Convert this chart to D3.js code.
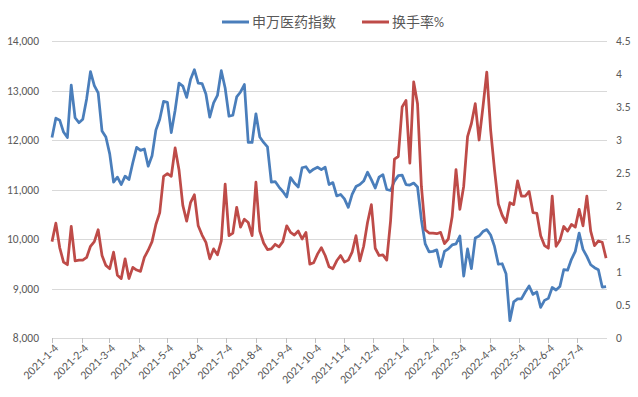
<!DOCTYPE html>
<html>
<head>
<meta charset="utf-8">
<script src="https://cdn.jsdelivr.net/npm/d3@7"></script>
<style>
  body { margin: 0; background: #fff; }
  text { font-family: Calibri, Carlito, Lato, "Noto Sans CJK SC", sans-serif; fill: #595959; }
</style>
</head>
<body>
<div id="chart"></div>
<script>
// sampled dates (roughly every 4 days)
const dates = [
  '2021-01-04','2021-01-08','2021-01-12','2021-01-16','2021-01-20','2021-01-24','2021-01-28','2021-02-01',
  '2021-02-05','2021-02-09','2021-02-13','2021-02-17','2021-02-21','2021-02-25','2021-03-01','2021-03-05',
  '2021-03-09','2021-03-13','2021-03-17','2021-03-21','2021-03-25','2021-03-29','2021-04-02','2021-04-06',
  '2021-04-10','2021-04-14','2021-04-18','2021-04-22','2021-04-26','2021-04-30','2021-05-04','2021-05-08',
  '2021-05-12','2021-05-16','2021-05-20','2021-05-24','2021-05-28','2021-06-01','2021-06-05','2021-06-09',
  '2021-06-13','2021-06-17','2021-06-21','2021-06-25','2021-06-29','2021-07-03','2021-07-07','2021-07-11',
  '2021-07-15','2021-07-19','2021-07-23','2021-07-27','2021-07-31','2021-08-04','2021-08-08','2021-08-12',
  '2021-08-16','2021-08-20','2021-08-24','2021-08-28','2021-09-01','2021-09-05','2021-09-09','2021-09-13',
  '2021-09-17','2021-09-21','2021-09-25','2021-09-29','2021-10-03','2021-10-07','2021-10-11','2021-10-15',
  '2021-10-19','2021-10-23','2021-10-27','2021-10-31','2021-11-04','2021-11-08','2021-11-12','2021-11-16',
  '2021-11-20','2021-11-24','2021-11-28','2021-12-02','2021-12-06','2021-12-10','2021-12-14','2021-12-18',
  '2021-12-22','2021-12-26','2021-12-30','2022-01-03','2022-01-07','2022-01-11','2022-01-15','2022-01-19',
  '2022-01-23','2022-01-27','2022-01-31','2022-02-04','2022-02-08','2022-02-12','2022-02-16','2022-02-20',
  '2022-02-24','2022-02-28','2022-03-04','2022-03-08','2022-03-12','2022-03-16','2022-03-20','2022-03-24',
  '2022-03-28','2022-04-01','2022-04-05','2022-04-09','2022-04-13','2022-04-17','2022-04-21','2022-04-25',
  '2022-04-29','2022-05-03','2022-05-07','2022-05-11','2022-05-15','2022-05-19','2022-05-23','2022-05-27',
  '2022-05-31','2022-06-04','2022-06-08','2022-06-12','2022-06-16','2022-06-20','2022-06-24','2022-06-28',
  '2022-07-02','2022-07-06','2022-07-10','2022-07-14','2022-07-18','2022-07-22','2022-07-26','2022-07-30',
  '2022-08-03'
];

// 申万医药指数 (left axis)
const pharmaIndex = [
  12050,12440,12400,12160,12050,13110,12450,12350,12420,12830,13380,13100,12950,12180,12060,11720,
  11150,11250,11100,11270,11200,11540,11850,11790,11820,11470,11680,12200,12420,12780,12760,12150,
  12600,13150,13090,12860,13220,13420,13150,13140,12930,12460,12750,12900,13400,13050,12480,12500,
  12870,12970,13120,11950,11950,12530,12060,11950,11860,11150,11160,11050,10960,10850,11240,11130,
  11050,11440,11460,11350,11410,11450,11400,11450,11100,11140,10870,10900,10810,10640,10900,11060,
  11100,11170,11350,11200,11030,11250,11300,11000,10980,11170,11280,11290,11100,11090,11130,11050,
  10390,9900,9740,9750,9780,9440,9750,9800,9880,9900,10060,9250,9800,9400,10020,10060,
  10150,10190,10080,9850,9490,9500,9300,8350,8730,8790,8790,8930,9050,8880,8930,8620,
  8760,8800,9020,8970,9040,9380,9370,9590,9750,10120,9790,9650,9480,9420,9380,9030,
  9040
];

// 换手率% (right axis)
const turnoverRate = [
  1.46,1.74,1.37,1.15,1.11,1.69,1.17,1.18,1.18,1.22,1.39,1.46,1.64,1.25,1.10,1.05,
  1.30,0.95,0.90,1.20,0.90,1.07,1.03,1.01,1.22,1.33,1.46,1.72,1.90,2.45,2.49,2.45,
  2.88,2.55,2.01,1.77,2.05,2.17,1.70,1.56,1.45,1.20,1.35,1.26,1.47,2.33,1.55,1.59,
  1.98,1.68,1.80,1.75,1.55,2.36,1.62,1.44,1.34,1.35,1.42,1.38,1.46,1.70,1.60,1.56,
  1.62,1.50,1.60,1.12,1.14,1.27,1.37,1.25,1.08,1.05,1.17,1.25,1.15,1.18,1.30,1.55,
  1.17,1.39,1.75,2.02,1.36,1.25,1.26,1.18,1.78,2.71,2.75,3.50,3.60,2.65,3.88,3.55,
  2.30,1.64,1.59,1.59,1.58,1.60,1.43,1.50,1.84,2.55,1.95,2.30,3.05,3.25,3.55,3.00,
  3.50,4.03,3.15,2.55,2.03,1.86,1.75,2.05,2.02,2.38,2.15,2.15,2.22,1.90,1.89,1.55,
  1.40,1.36,2.15,1.39,1.48,1.69,1.62,1.72,1.68,1.95,1.70,2.15,1.62,1.40,1.47,1.45,
  1.21
];

const seriesNames = ['申万医药指数', '换手率%'];
const seriesColors = ['#4a7ebb', '#be4b48'];
const leftTicks = [8000, 9000, 10000, 11000, 12000, 13000, 14000];
const rightTicks = [0, 0.5, 1, 1.5, 2, 2.5, 3, 3.5, 4, 4.5];
const xTickLabels = ['2021-1-4','2021-2-4','2021-3-4','2021-4-4','2021-5-4','2021-6-4','2021-7-4',
  '2021-8-4','2021-9-4','2021-10-4','2021-11-4','2021-12-4','2022-1-4','2022-2-4','2022-3-4',
  '2022-4-4','2022-5-4','2022-6-4','2022-7-4'];

const width = 638, height = 397;
const plotLeft = 52, plotRight = 607, plotTop = 41, plotBottom = 338;

const parseDash = d3.timeParse('%Y-%m-%d');
const parseTick = d3.timeParse('%Y-%_m-%_d');

const svg = d3.select('#chart')
  .append('svg')
  .attr('width', width)
  .attr('height', height);

const x = d3.scaleTime()
  .domain([parseDash('2021-01-04'), parseDash('2022-08-05')])
  .range([plotLeft, 608]);

const yLeft = d3.scaleLinear().domain([8000, 14000]).range([plotBottom, plotTop]);
const yRight = d3.scaleLinear().domain([0, 4.5]).range([plotBottom, plotTop]);

// gridlines
svg.append('g')
  .selectAll('line')
  .data(leftTicks)
  .enter()
  .append('line')
  .attr('x1', plotLeft)
  .attr('x2', plotRight)
  .attr('y1', d => Math.round(yLeft(d)) + 0.5)
  .attr('y2', d => Math.round(yLeft(d)) + 0.5)
  .style('stroke', '#d9d9d9')
  .style('stroke-width', 1);

// left axis labels
svg.append('g')
  .selectAll('text')
  .data(leftTicks)
  .enter()
  .append('text')
  .attr('x', 39)
  .attr('y', d => yLeft(d))
  .attr('dy', '0.35em')
  .attr('text-anchor', 'end')
  .style('font-size', '11.5px')
  .text(d3.format(','));

// right axis labels
svg.append('g')
  .selectAll('text')
  .data(rightTicks)
  .enter()
  .append('text')
  .attr('x', 616)
  .attr('y', d => yRight(d))
  .attr('dy', '0.35em')
  .attr('text-anchor', 'start')
  .style('font-size', '11.5px')
  .text(d => String(d));

// x axis ticks + rotated labels
const xTicks = svg.append('g')
  .selectAll('g')
  .data(xTickLabels)
  .enter()
  .append('g')
  .attr('transform', d => 'translate(' + Math.round(x(parseTick(d))) + ',' + plotBottom + ')');

xTicks.append('line')
  .attr('x1', 0.5).attr('x2', 0.5)
  .attr('y1', 0).attr('y2', 5)
  .style('stroke', '#bfbfbf');

xTicks.append('text')
  .attr('transform', 'translate(4,8) rotate(-45)')
  .attr('text-anchor', 'end')
  .attr('dy', '0.35em')
  .style('font-size', '12px')
  .text(d => d);

// lines
const parsedDates = dates.map(parseDash);

const lineLeft = d3.line()
  .x((d, i) => x(parsedDates[i]))
  .y(d => yLeft(d));

const lineRight = d3.line()
  .x((d, i) => x(parsedDates[i]))
  .y(d => yRight(d));

svg.append('path')
  .datum(pharmaIndex)
  .attr('d', lineLeft)
  .style('fill', 'none')
  .style('stroke', seriesColors[0])
  .style('stroke-width', 2.75)
  .style('stroke-linejoin', 'round');

svg.append('path')
  .datum(turnoverRate)
  .attr('d', lineRight)
  .style('fill', 'none')
  .style('stroke', seriesColors[1])
  .style('stroke-width', 2.75)
  .style('stroke-linejoin', 'round');

// legend
const legendItems = [{x: 222, name: seriesNames[0], color: seriesColors[0]},
                     {x: 362, name: seriesNames[1], color: seriesColors[1]}];
const legend = svg.append('g')
  .selectAll('g')
  .data(legendItems)
  .enter()
  .append('g')
  .attr('transform', d => 'translate(' + d.x + ',22)');

legend.append('line')
  .attr('x1', 0).attr('x2', 27)
  .attr('y1', 0).attr('y2', 0)
  .style('stroke', d => d.color)
  .style('stroke-width', 3);

legend.append('text')
  .attr('x', 30)
  .attr('dy', '0.35em')
  .style('font-size', '14px')
  .text(d => d.name);
</script>
</body>
</html>
